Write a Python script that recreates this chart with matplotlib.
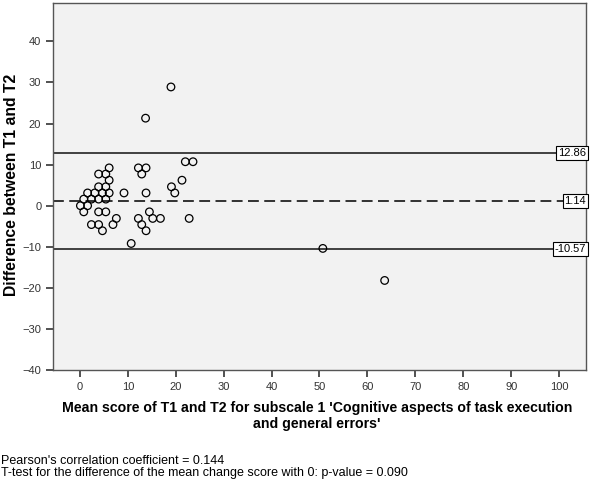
#!/usr/bin/env python3
"""Bland-Altman style plot: difference T1-T2 vs mean score, subscale 1."""

import matplotlib
matplotlib.use("Agg")
import matplotlib.pyplot as plt

plt.rcParams["font.family"] = ["Liberation Sans", "DejaVu Sans"]

# mean of T1 and T2 (x) and difference T1 - T2 (y)
mean_score = [19.0, 13.7,
              22.0, 23.6, 6.1, 12.2, 13.8, 3.9, 5.4, 12.9,
              6.1, 21.3, 3.9, 5.4, 19.1,
              1.6, 3.1, 4.7, 6.1, 9.2, 13.8, 19.8,
              0.8, 2.4, 3.9, 5.4, 0.1, 1.6,
              0.8, 3.9, 5.4, 14.5,
              7.6, 12.2, 15.2, 16.8, 22.8,
              2.4, 3.9, 6.9, 12.9, 4.7, 13.8, 10.7,
              50.7, 63.6]
difference = [28.9, 21.3,
              10.7, 10.7, 9.2, 9.2, 9.2, 7.7, 7.7, 7.7,
              6.2, 6.2, 4.6, 4.6, 4.6,
              3.1, 3.1, 3.1, 3.1, 3.1, 3.1, 3.1,
              1.6, 1.6, 1.6, 1.6, 0.0, 0.0,
              -1.5, -1.5, -1.5, -1.5,
              -3.1, -3.1, -3.1, -3.1, -3.1,
              -4.6, -4.6, -4.6, -4.6, -6.1, -6.1, -9.2,
              -10.4, -18.2]

mean_diff = 1.14
upper_loa = 12.86
lower_loa = -10.57

x_ticks = list(range(0, 101, 10))
y_ticks = list(range(-40, 41, 10))

x_title = ("Mean score of T1 and T2 for subscale 1 'Cognitive aspects of task execution\n"
           "and general errors'")
y_title = "Difference between T1 and T2"
footnotes = [
    "Pearson's correlation coefficient = 0.144",
    "T-test for the difference of the mean change score with 0: p-value = 0.090",
]

fig = plt.figure(figsize=(5.9, 4.84), dpi=100)
ax = fig.add_axes([0.090, 0.2355, 0.903, 0.758])
ax.set_facecolor("#f2f2f2")

ax.scatter(mean_score, difference, s=30, facecolors="none",
           edgecolors="black", linewidths=0.9, zorder=3)

# limits of agreement + mean difference
ax.axhline(upper_loa, color="#333333", lw=1.3)
ax.axhline(mean_diff, color="#222222", lw=1.3, ls=(0, (6, 3)))
ax.axhline(lower_loa, color="#333333", lw=1.3)

for val, txt in [(upper_loa, "12.86"), (mean_diff, "1.14"), (lower_loa, "-10.57")]:
    ax.text(1.0, val, txt, transform=ax.get_yaxis_transform(), ha="right",
            va="center", fontsize=8, clip_on=False, zorder=5,
            bbox=dict(boxstyle="square,pad=0.15", fc="white", ec="black", lw=0.8))

ax.set_xlim(-5.6, 105.6)
ax.set_ylim(-40, 49.3)
ax.set_xticks(x_ticks)
ax.set_yticks(y_ticks)
ax.tick_params(direction="out", length=5, width=1.2, color="#333333",
               labelsize=8, labelcolor="#333333")

for side in ["left", "bottom", "right", "top"]:
    ax.spines[side].set_color("#555555")
    ax.spines[side].set_linewidth(1.0)

# axis titles placed in figure coords to follow the reference layout
fig.text(12 / 590, 1 - 185 / 484, y_title, rotation=90, fontsize=11.3,
         fontweight="bold", ha="center", va="center")
fig.text(317 / 590, 1 - 401 / 484, x_title, fontsize=10.2, fontweight="bold",
         ha="center", va="top", linespacing=1.15)

fig.text(0.002, 1 - 455 / 484, "\n".join(footnotes), fontsize=9, ha="left",
         va="top", linespacing=1.0)

fig.savefig("out.png", dpi=100)
